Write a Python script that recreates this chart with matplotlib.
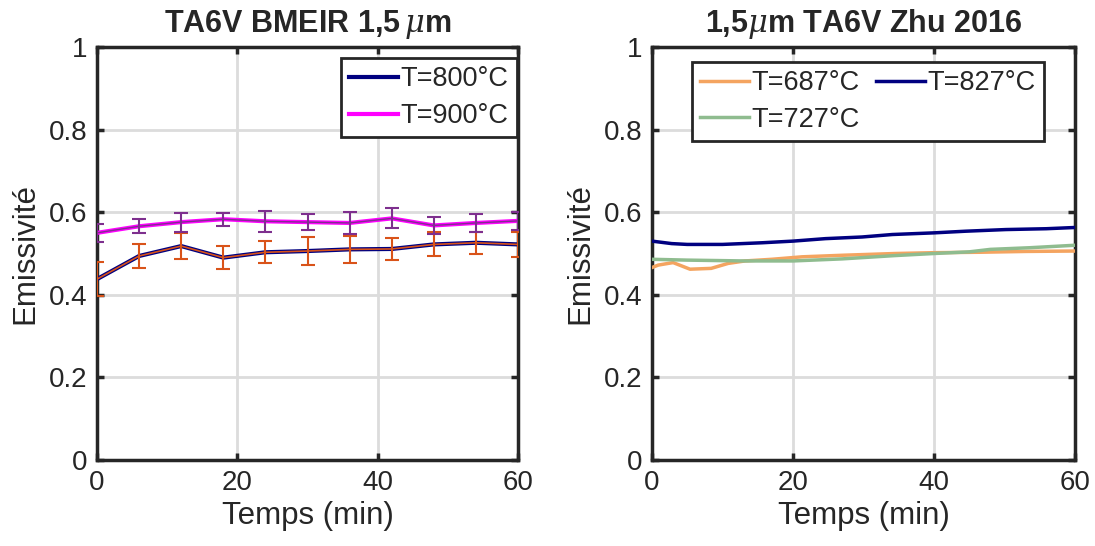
"""Emissivite TA6V a 1,5 um : mesures BMEIR (gauche) et Zhu 2016 (droite)."""

import matplotlib
matplotlib.use('Agg')
import matplotlib.pyplot as plt
import numpy as np

plt.rcParams.update({
    'font.family': ['Liberation Sans', 'DejaVu Sans'],
    'font.size': 20,
    'text.color': '#262626',
    'axes.labelcolor': '#262626',
    'xtick.color': '#262626',
    'ytick.color': '#262626',
    'mathtext.fontset': 'dejavuserif',
})

# --- BMEIR, mesures toutes les 6 min ---
t_bmeir = [0, 6, 12, 18, 24, 30, 36, 42, 48, 54, 60]
eps_800 = [0.438, 0.494, 0.518, 0.490, 0.503, 0.506, 0.510, 0.511, 0.522, 0.526, 0.522]
err_800 = [0.042, 0.028, 0.031, 0.028, 0.027, 0.034, 0.032, 0.026, 0.029, 0.026, 0.030]
eps_900 = [0.550, 0.566, 0.576, 0.583, 0.578, 0.576, 0.574, 0.585, 0.568, 0.574, 0.579]
err_900 = [0.022, 0.017, 0.023, 0.016, 0.025, 0.019, 0.026, 0.024, 0.020, 0.022, 0.022]

# --- Zhu 2016 ---
t_687 = [0, 0.9, 3.0, 5.4, 8.4, 10.8, 13.2, 17.0, 21.3, 27.4, 34.5, 40.0, 46.4, 53.0, 60.0]
eps_687 = [0.466, 0.472, 0.478, 0.462, 0.464, 0.476, 0.482, 0.486, 0.492, 0.496, 0.500,
           0.502, 0.503, 0.505, 0.506]
t_727 = [0, 5.0, 13.0, 20.0, 27.0, 34.5, 40.0, 45.0, 48.0, 53.6, 60.0]
eps_727 = [0.486, 0.484, 0.482, 0.482, 0.487, 0.495, 0.500, 0.504, 0.510, 0.514, 0.520]
t_827 = [0, 2.8, 5.0, 10.0, 15.6, 20.0, 24.6, 29.8, 34.1, 40.0, 44.5, 50.2, 55.9, 60.0]
eps_827 = [0.530, 0.524, 0.522, 0.522, 0.526, 0.530, 0.536, 0.540, 0.546, 0.550, 0.554,
           0.558, 0.560, 0.563]

GRID = '#dcdcdc'
SPINE = '#262626'


def style_axes(ax, title):
    ax.set_xlim(0, 60)
    ax.set_ylim(0, 1)
    ax.set_xticks([0, 20, 40, 60])
    ax.set_yticks([0, 0.2, 0.4, 0.6, 0.8, 1])
    ax.set_yticklabels(['0', '0.2', '0.4', '0.6', '0.8', '1'])
    ax.grid(True, color=GRID, linewidth=2)
    ax.set_axisbelow(True)
    for s in ax.spines.values():
        s.set_linewidth(2.5)
        s.set_color(SPINE)
    ax.tick_params(direction='in', length=5, width=2.5, labelsize=20, pad=7,
                   top=True, right=True)
    ax.set_xlabel('Temps (min)', fontsize=22.5, labelpad=4)
    ax.set_ylabel('Emissivité', fontsize=22.5, labelpad=6)
    ax.set_title(title, fontsize=22, fontweight='bold', pad=11)


fig = plt.figure(figsize=(10.95, 5.46), dpi=100)
ax1 = fig.add_axes([0.0886, 0.1575, 0.3845, 0.7564])
ax2 = fig.add_axes([0.5954, 0.1575, 0.3863, 0.7564])

# Gauche
l800, = ax1.plot(t_bmeir, eps_800, color='#000080', linewidth=3, label='T=800°C', zorder=3)
l900, = ax1.plot(t_bmeir, eps_900, color='#ff00ff', linewidth=3, label='T=900°C', zorder=3)
ax1.errorbar(t_bmeir, eps_800, yerr=err_800, color='#d95319', linewidth=1.2,
             elinewidth=1.5, capsize=5, capthick=1.5, zorder=4)
ax1.errorbar(t_bmeir, eps_900, yerr=err_900, color='#7e2f8e', linewidth=1.0,
             elinewidth=1.5, capsize=5, capthick=1.5, zorder=4)
style_axes(ax1, 'TA6V BMEIR 1,5$\\,\\mu$m')
leg1 = ax1.legend(handles=[l800, l900], loc='upper right', fontsize=19.5,
                  fancybox=False, edgecolor=SPINE, framealpha=1,
                  handlelength=1.8, handletextpad=0.1, borderpad=0.3,
                  labelspacing=0.4, borderaxespad=0,
                  bbox_to_anchor=(0.997, 0.973))
leg1.get_frame().set_linewidth(2)

# Droite
ax2.plot(t_687, eps_687, color='#f4a460', linewidth=2.5, label='T=687°C', zorder=3)
ax2.plot(t_727, eps_727, color='#8fbc8f', linewidth=2.5, label='T=727°C', zorder=3)
ax2.plot(t_827, eps_827, color='#000080', linewidth=2.5, label='T=827°C', zorder=3)
style_axes(ax2, '1,5$\\mu$m TA6V Zhu 2016')
leg2 = ax2.legend(loc='upper center', ncol=2, fontsize=19.5, fancybox=False,
                  edgecolor=SPINE, framealpha=1, handlelength=1.8,
                  handletextpad=0.1, borderpad=0.3, labelspacing=0.4,
                  columnspacing=0.6, borderaxespad=0,
                  bbox_to_anchor=(0.51, 0.964))
leg2.get_frame().set_linewidth(2)

fig.savefig('out.png', dpi=100)
plt.close(fig)
